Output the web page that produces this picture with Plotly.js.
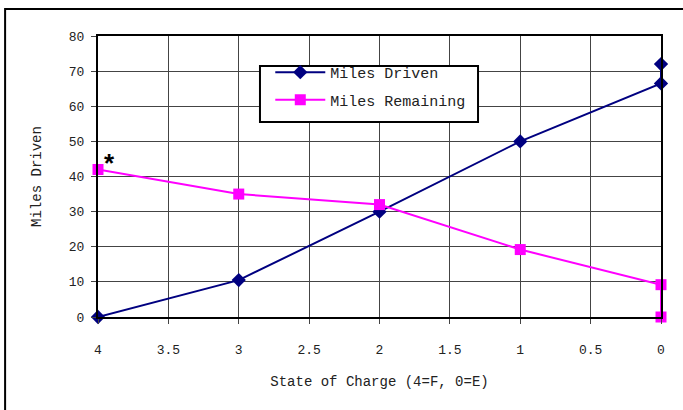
<!DOCTYPE html>
<html>
<head>
<meta charset="utf-8">
<script src="https://cdn.plot.ly/plotly-3.0.1.min.js"></script>
<style>html,body{margin:0;padding:0;background:#fff;}#chart{width:683px;height:410px;}</style>
</head>
<body>
<div id="chart"></div>
<script>
var stateOfCharge = [4, 3, 2, 1, 0, 0];
var milesDriven = [0, 10.5, 30, 50, 66.5, 72];
var milesRemaining = [42, 35, 32, 19.2, 9.2, 0];
var xTicks = [4, 3.5, 3, 2.5, 2, 1.5, 1, 0.5, 0];
var xTickText = ['4', '3.5', '3', '2.5', '2', '1.5', '1', '0.5', '0'];
var yTicks = [0, 10, 20, 30, 40, 50, 60, 70, 80];

var fam = '"Liberation Mono", "DejaVu Sans Mono", monospace';
var tickFont = {family: fam, size: 13, color: '#222'};
var titleFont = {family: fam, size: 14, color: '#222'};
var legendFont = {family: fam, size: 15, color: '#222'};

var traces = [
  {x: stateOfCharge, y: milesDriven, name: 'Miles Driven', type: 'scatter', mode: 'lines+markers', legendgroup: 'a',
   line: {color: '#000080', width: 2}, marker: {symbol: 'diamond', size: 11, color: '#000080'}, cliponaxis: false},
  {x: stateOfCharge, y: milesRemaining, name: 'Miles Remaining', type: 'scatter', mode: 'lines+markers', legendgroup: 'b',
   line: {color: '#ff00ff', width: 2}, marker: {symbol: 'square', size: 11, color: '#ff00ff'}, cliponaxis: false}
];

var layout = {
  width: 683, height: 410,
  margin: {l: 98, r: 22, t: 36, b: 93},
  paper_bgcolor: '#fff', plot_bgcolor: '#fff',
  font: tickFont,
  showlegend: true,
  legend: {x: 0.306, y: 0.929, xanchor: 'left', yanchor: 'top', bgcolor: 'rgba(0,0,0,0)', traceorder: 'grouped',
           borderwidth: 0, font: legendFont, tracegroupgap: 5, itemwidth: 50},
  xaxis: {range: [4, 0], tickvals: xTicks, ticktext: xTickText, showgrid: true, gridcolor: '#444', gridwidth: 1,
          zeroline: false, showline: true, linecolor: '#000', linewidth: 2, mirror: true,
          ticks: 'outside', ticklen: 5, tickcolor: '#444', ticklabelstandoff: 14, tickfont: tickFont,
          title: {text: 'State of Charge (4=F, 0=E)', font: titleFont, standoff: 20}},
  yaxis: {range: [0, 80], tickvals: yTicks, showgrid: true, gridcolor: '#444', gridwidth: 1,
          zeroline: false, showline: true, linecolor: '#000', linewidth: 2, mirror: true,
          ticks: 'outside', ticklen: 5, tickcolor: '#444', ticklabelstandoff: 4, tickfont: tickFont,
          title: {text: 'Miles Driven', font: titleFont, standoff: 24}},
  annotations: [{x: 4, y: 42, xref: 'x', yref: 'y', text: '<b>*</b>', showarrow: false,
                 xshift: 11, yshift: 6, font: {family: 'Liberation Sans, Arial', size: 26, color: '#000'}}],
  shapes: [
    {type: 'rect', xref: 'paper', yref: 'paper', x0: -0.165, x1: 1.06, y0: -0.36, y1: 1.096,
     line: {color: '#000', width: 2}, fillcolor: 'rgba(0,0,0,0)', layer: 'below'},
    {type: 'rect', xref: 'paper', yref: 'paper', x0: 0.2877, x1: 0.675, y0: 0.694, y1: 0.893,
     line: {color: '#000', width: 2}, fillcolor: '#fff', layer: 'above'}
  ]
};

Plotly.newPlot('chart', traces, layout, {displayModeBar: false, staticPlot: true});
</script>
</body>
</html>
